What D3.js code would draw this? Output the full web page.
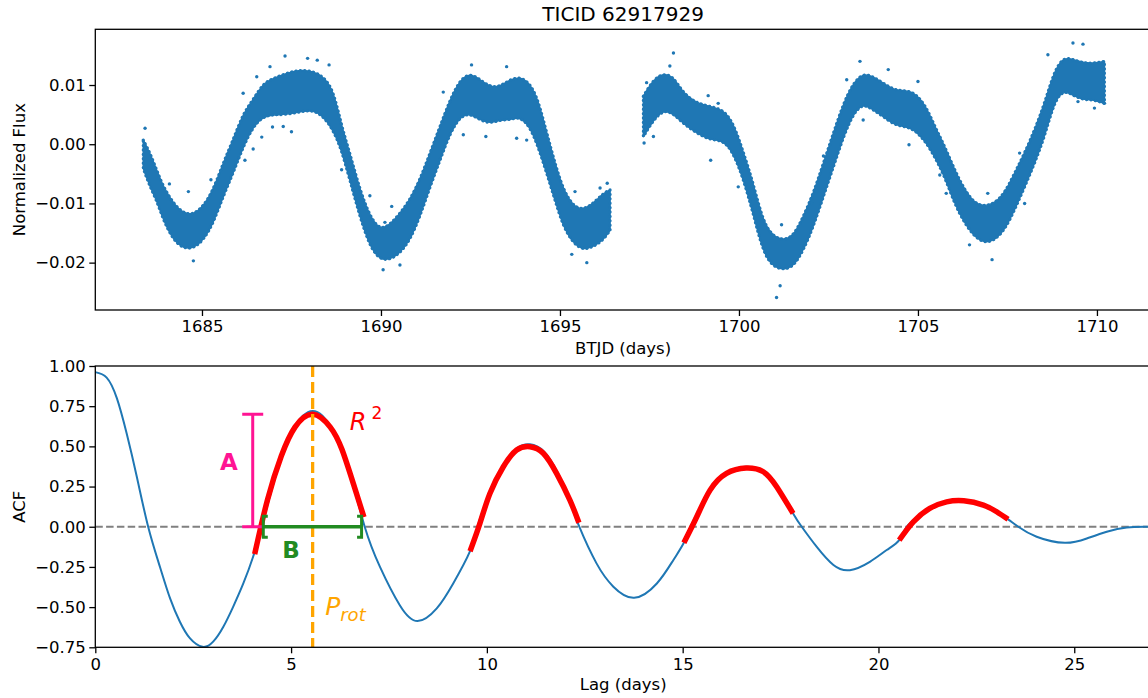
<!DOCTYPE html>
<html>
<head>
<meta charset="utf-8">
<script src="https://cdnjs.cloudflare.com/ajax/libs/d3/7.8.5/d3.min.js"></script>
<style>
    body { margin: 0; background: #fff; }
    svg text { font-family: "DejaVu Sans", sans-serif; }
</style>
</head>
<body>
<div id="chart"></div>
<script>

// ---- light curve (top panel), band of the dense scatter ----
var orbit1Time = [1683.36,1683.55,1683.73,1683.92,1684.20,1684.48,1684.76,1685.04,1685.32,1685.59,1685.87,1686.15,1686.43,1686.71,1686.99,1687.37,1687.74,1688.11,1688.39,1688.67,1688.90,1689.13,1689.41,1689.69,1689.97,1690.25,1690.53,1690.81,1691.09,1691.37,1691.65,1691.93,1692.21,1692.49,1692.77,1693.04,1693.32,1693.60,1693.88,1694.16,1694.39,1694.63,1694.86,1695.09,1695.37,1695.65,1695.93,1696.21,1696.40];
var orbit1High = [0.0007,-0.0015,-0.0043,-0.0072,-0.0100,-0.0117,-0.0119,-0.0105,-0.0077,-0.0032,0.0007,0.0052,0.0075,0.0103,0.0111,0.0120,0.0126,0.0123,0.0114,0.0092,0.0030,-0.0015,-0.0077,-0.0122,-0.0145,-0.0136,-0.0117,-0.0094,-0.0060,-0.0015,0.0030,0.0075,0.0109,0.0120,0.0109,0.0097,0.0097,0.0109,0.0114,0.0103,0.0075,0.0019,-0.0032,-0.0077,-0.0105,-0.0111,-0.0100,-0.0083,-0.0077];
var orbit1Low = [-0.0041,-0.0072,-0.0094,-0.0128,-0.0162,-0.0176,-0.0176,-0.0162,-0.0133,-0.0088,-0.0049,-0.0004,0.0030,0.0047,0.0050,0.0050,0.0055,0.0058,0.0047,0.0024,-0.0010,-0.0060,-0.0122,-0.0173,-0.0195,-0.0195,-0.0184,-0.0162,-0.0122,-0.0072,-0.0027,0.0019,0.0047,0.0052,0.0041,0.0035,0.0041,0.0041,0.0047,0.0030,-0.0004,-0.0049,-0.0094,-0.0139,-0.0167,-0.0179,-0.0173,-0.0162,-0.0145];

var orbit2Time = [1697.33,1697.61,1697.89,1698.17,1698.44,1698.82,1699.19,1699.57,1699.85,1700.13,1700.40,1700.68,1700.96,1701.24,1701.52,1701.80,1702.08,1702.36,1702.64,1702.92,1703.19,1703.47,1703.75,1704.03,1704.40,1704.81,1705.19,1705.47,1705.75,1706.02,1706.30,1706.58,1706.86,1707.14,1707.42,1707.70,1707.98,1708.26,1708.54,1708.82,1709.09,1709.37,1709.65,1709.93,1710.21];
var orbit2High = [0.0081,0.0109,0.0120,0.0114,0.0086,0.0069,0.0064,0.0058,0.0035,-0.0015,-0.0066,-0.0133,-0.0156,-0.0162,-0.0156,-0.0122,-0.0083,-0.0032,0.0019,0.0069,0.0103,0.0120,0.0114,0.0103,0.0089,0.0092,0.0069,0.0030,-0.0004,-0.0043,-0.0077,-0.0100,-0.0105,-0.0100,-0.0083,-0.0049,-0.0015,0.0024,0.0069,0.0126,0.0148,0.0142,0.0137,0.0137,0.0140];
var orbit2Low = [0.0013,0.0041,0.0058,0.0052,0.0035,0.0019,0.0007,0.0007,-0.0015,-0.0060,-0.0117,-0.0184,-0.0207,-0.0212,-0.0207,-0.0179,-0.0139,-0.0088,-0.0038,0.0013,0.0052,0.0069,0.0058,0.0047,0.0030,0.0030,0.0007,-0.0021,-0.0055,-0.0100,-0.0133,-0.0156,-0.0167,-0.0162,-0.0145,-0.0111,-0.0072,-0.0032,0.0013,0.0075,0.0092,0.0081,0.0075,0.0075,0.0069];

// stray points outside the dense band
var strayTime = [1687.32,1687.95,1688.22,1688.55,1686.90,1686.53,1686.15,1683.41,1687.50,1686.97,1687.27,1686.67,1686.43,1686.20,1684.62,1684.09,1684.76,1689.69,1688.90,1690.11,1690.06,1685.25,
    1692.53,1693.51,1691.74,1692.93,1692.30,1693.79,1694.07,1690.30,1690.53,1695.33,1695.75,1696.32,1696.12,1695.42,1697.35,
    1698.17,1698.07,1697.42,1699.14,1699.42,1697.61,1699.21,1699.98,1701.05,1701.15,1701.19,1702.03,1702.36,1703.01,1703.38,1704.17,1703.47,
    1705.00,1704.75,1705.61,1705.79,1706.44,1707.07,1706.95,1707.98,1707.84,1708.63,1709.33,1709.61,1709.93,1710.21,1709.47];
var strayFlux = [0.0149,0.0145,0.0142,0.0134,0.0131,0.0114,0.0086,0.0027,0.0021,0.0029,0.0030,0.0012,-0.0008,-0.0027,-0.0080,-0.0067,-0.0197,-0.0087,-0.0043,-0.0132,-0.0212,-0.0060,
    0.0134,0.0131,0.0088,0.0013,0.0016,0.0010,0.0007,-0.0105,-0.0204,-0.0186,-0.0200,-0.0066,-0.0074,-0.0080,0.0002,
    0.0154,0.0132,0.0104,0.0082,0.0069,0.0013,-0.0027,-0.0072,-0.0259,-0.0239,-0.0136,-0.0100,-0.0020,0.0109,0.0140,0.0126,0.0041,
    0.0106,-0.0001,-0.0052,-0.0083,-0.0170,-0.0195,-0.0083,-0.0100,-0.0015,0.0151,0.0171,0.0169,0.0061,0.0069,0.0072];

var timeTicks = [1685, 1690, 1695, 1700, 1705, 1710];
var fluxTicks = [-0.02, -0.01, 0.00, 0.01];

// ---- ACF (bottom panel) ----
var acfLag = [0,0.29,0.55,0.80,1.06,1.35,1.65,1.91,2.16,2.42,2.74,3.01,3.27,3.52,3.78,4.03,4.25,4.60,5.00,5.30,5.55,5.80,6.10,6.50,6.88,7.27,7.78,8.23,8.72,9.14,9.57,9.76,10.10,10.45,10.78,11.10,11.45,11.80,12.10,12.36,12.80,13.23,13.76,14.34,14.76,15.03,15.20,15.55,15.90,16.25,16.62,17.00,17.40,17.82,18.04,18.42,18.85,19.27,19.78,20.21,20.53,20.72,21.10,21.50,21.85,22.18,22.60,23.00,23.31,23.57,24.04,24.76,25.32,25.83,26.34,26.88];
var acfValue = [0.962,0.928,0.800,0.581,0.311,0.0,-0.249,-0.446,-0.591,-0.695,-0.747,-0.715,-0.622,-0.498,-0.353,-0.187,0.0,0.31,0.58,0.69,0.72,0.69,0.58,0.33,0.0,-0.25,-0.49,-0.587,-0.508,-0.353,-0.152,0.0,0.22,0.39,0.49,0.513,0.47,0.34,0.17,0.0,-0.228,-0.373,-0.442,-0.353,-0.208,-0.1,0.0,0.16,0.28,0.35,0.373,0.35,0.25,0.083,0.0,-0.124,-0.238,-0.27,-0.218,-0.145,-0.083,0.0,0.075,0.135,0.16,0.166,0.145,0.095,0.046,0.0,-0.062,-0.1,-0.073,-0.031,-0.004,0.0];

// red peak fits
var fitLags = [
    [4.07,4.40,4.75,5.10,5.55,6.00,6.30,6.60,6.86],
    [9.57,9.82,10.08,10.42,10.76,11.10,11.44,11.78,12.12,12.35],
    [15.03,15.36,15.70,16.12,16.62,17.06,17.40,17.82],
    [20.53,20.89,21.31,21.74,22.18,22.68,23.02,23.31]
];
var fitValues = [
    [-0.17,0.17,0.44,0.62,0.70,0.62,0.48,0.26,0.06],
    [-0.152,0.02,0.208,0.373,0.477,0.498,0.457,0.332,0.166,0.025],
    [-0.10,0.062,0.228,0.332,0.365,0.342,0.249,0.083],
    [-0.083,0.031,0.114,0.155,0.162,0.135,0.093,0.046]
];

var periodLag = 5.55;        // P_rot
var amplitudeA = [4.02, 0.0, 0.70];   // lag, from, to
var widthB = [4.29, 6.80, 0.0];       // from lag, to lag, acf

var lagTicks = [0, 5, 10, 15, 20, 25];
var acfTicks = [-0.75, -0.50, -0.25, 0.00, 0.25, 0.50, 0.75, 1.00];

var BLUE = "#1f77b4";

var svg = d3.select("#chart").append("svg")
    .attr("width", 1148)
    .attr("height", 698)
    .style("background", "#fff");

/*
 * small helper: frame + axes the way matplotlib draws them
 */
function drawAxes(g, x, y, xTicks, yTicks, xFmt, yFmt) {
    var w = x.range()[1] - x.range()[0];
    var h = y.range()[0] - y.range()[1];

    var xa = g.append("g")
        .attr("transform", "translate(0," + h + ")")
        .call(d3.axisBottom(x).tickValues(xTicks).tickFormat(xFmt).tickSize(6).tickPadding(4.5).tickSizeOuter(0));
    var ya = g.append("g")
        .call(d3.axisLeft(y).tickValues(yTicks).tickFormat(yFmt).tickSize(6).tickPadding(3.5).tickSizeOuter(0));

    [xa, ya].forEach(function (a) {
        a.select(".domain").remove();
        a.selectAll("line").attr("stroke", "#000").attr("stroke-width", 1.3);
        a.selectAll("text").attr("fill", "#000").style("font-size", "16.5px");
    });

    g.append("rect")
        .attr("width", w)
        .attr("height", h)
        .attr("fill", "none")
        .attr("stroke", "#000")
        .attr("stroke-width", 1.3);
}

/*
 * LightCurve panel
 */
LightCurve = function (_svg) {
    this.svg = _svg;
    this.initVis();
};

LightCurve.prototype.initVis = function () {
    var vis = this;

    vis.left = 95.3; vis.top = 29.3;
    vis.x = d3.scaleLinear().domain([1682.02, 1711.51]).range([0, 1151 - vis.left]);
    vis.y = d3.scaleLinear().domain([-0.0280, 0.01941]).range([310 - vis.top, 0]);

    vis.g = vis.svg.append("g")
        .attr("transform", "translate(" + vis.left + "," + vis.top + ")");

    vis.g.append("clipPath").attr("id", "clipTop")
        .append("rect").attr("width", vis.x.range()[1]).attr("height", vis.y.range()[0]);

    var plot = vis.g.append("g").attr("clip-path", "url(#clipTop)");

    var band = d3.area()
        .curve(d3.curveBasis)
        .x(function (d) { return vis.x(d.t); })
        .y0(function (d) { return vis.y(d.lo); })
        .y1(function (d) { return vis.y(d.hi); });

    var orbits = [
        orbit1Time.map(function (t, i) { return {t: t, hi: orbit1High[i], lo: orbit1Low[i]}; }),
        orbit2Time.map(function (t, i) { return {t: t, hi: orbit2High[i], lo: orbit2Low[i]}; })
    ];

    plot.selectAll(".band")
        .data(orbits)
        .enter().append("path")
        .attr("class", "band")
        .attr("d", band)
        .attr("fill", BLUE)
        .attr("stroke", BLUE)
        .attr("stroke-width", 1.5)
        .attr("stroke-linejoin", "round");

    // dotted fringe so the edge reads like scattered points
    plot.selectAll(".fringe")
        .data(orbits)
        .enter().append("path")
        .attr("class", "fringe")
        .attr("d", band)
        .attr("fill", "none")
        .attr("stroke", BLUE)
        .attr("stroke-width", 3.2)
        .attr("stroke-linecap", "round")
        .attr("stroke-dasharray", "0.1,4.3");

    plot.selectAll(".stray")
        .data(strayTime)
        .enter().append("circle")
        .attr("class", "stray")
        .attr("r", 1.7)
        .attr("cx", function (d) { return vis.x(d); })
        .attr("cy", function (d, i) { return vis.y(strayFlux[i]); })
        .attr("fill", BLUE);

    drawAxes(vis.g, vis.x, vis.y, timeTicks, fluxTicks, d3.format("d"), d3.format(".2f"));

    var w = vis.x.range()[1], h = vis.y.range()[0];

    vis.g.append("text")
        .text("TICID 62917929")
        .attr("x", w / 2).attr("y", -8)
        .attr("text-anchor", "middle")
        .style("font-size", "20px");

    vis.g.append("text")
        .text("BTJD (days)")
        .attr("x", w / 2).attr("y", h + 44.5)
        .attr("text-anchor", "middle")
        .style("font-size", "16.5px");

    vis.g.append("text")
        .text("Normalized Flux")
        .attr("transform", "translate(" + (25 - vis.left) + "," + (h / 2) + ") rotate(-90)")
        .attr("text-anchor", "middle")
        .style("font-size", "16.5px");
};

/*
 * ACF panel
 */
AcfPlot = function (_svg) {
    this.svg = _svg;
    this.initVis();
};

AcfPlot.prototype.initVis = function () {
    var vis = this;

    vis.left = 95.3; vis.top = 366;
    vis.x = d3.scaleLinear().domain([0, 26.96]).range([0, 1151 - vis.left]);
    vis.y = d3.scaleLinear().domain([-0.75, 1.0]).range([647.3 - vis.top, 0]);

    var x = vis.x, y = vis.y;
    var w = x.range()[1], h = y.range()[0];

    vis.g = vis.svg.append("g")
        .attr("transform", "translate(" + vis.left + "," + vis.top + ")");

    vis.g.append("clipPath").attr("id", "clipBottom")
        .append("rect").attr("width", w).attr("height", h);

    var plot = vis.g.append("g").attr("clip-path", "url(#clipBottom)");

    // zero line
    plot.append("line")
        .attr("x1", 0).attr("x2", w)
        .attr("y1", y(0)).attr("y2", y(0))
        .attr("stroke", "#808080")
        .attr("stroke-width", 2)
        .attr("stroke-dasharray", "7.5,3.3");

    var line = d3.line()
        .curve(d3.curveNatural)
        .x(function (d) { return x(d[0]); })
        .y(function (d) { return y(d[1]); });

    plot.append("path")
        .datum(acfLag.map(function (l, i) { return [l, acfValue[i]]; }))
        .attr("d", line)
        .attr("fill", "none")
        .attr("stroke", BLUE)
        .attr("stroke-width", 2);

    plot.selectAll(".fit")
        .data(fitLags.map(function (lags, k) {
            return lags.map(function (l, i) { return [l, fitValues[k][i]]; });
        }))
        .enter().append("path")
        .attr("class", "fit")
        .attr("d", line)
        .attr("fill", "none")
        .attr("stroke", "red")
        .attr("stroke-width", 5.5);

    // P_rot
    plot.append("line")
        .attr("x1", x(periodLag)).attr("x2", x(periodLag))
        .attr("y1", 0).attr("y2", h)
        .attr("stroke", "orange")
        .attr("stroke-width", 3.3)
        .attr("stroke-dasharray", "11,5");

    // A: vertical bar with caps
    var pink = "#ff1493";
    var ax = x(amplitudeA[0]);
    plot.append("line")
        .attr("x1", ax).attr("x2", ax)
        .attr("y1", y(amplitudeA[1])).attr("y2", y(amplitudeA[2]))
        .attr("stroke", pink).attr("stroke-width", 3);
    [amplitudeA[1], amplitudeA[2]].forEach(function (v) {
        plot.append("line")
            .attr("x1", ax - 10.5).attr("x2", ax + 10.5)
            .attr("y1", y(v)).attr("y2", y(v))
            .attr("stroke", pink).attr("stroke-width", 3);
    });

    // B: horizontal bracket
    var green = "#228b22";
    var by = y(widthB[2]);
    plot.append("line")
        .attr("x1", x(widthB[0])).attr("x2", x(widthB[1]))
        .attr("y1", by).attr("y2", by)
        .attr("stroke", green).attr("stroke-width", 3.3);
    [[widthB[0], 1], [widthB[1], -1]].forEach(function (c) {
        var bx = x(c[0]);
        plot.append("path")
            .attr("d", "M" + (bx + 4.5 * c[1]) + "," + (by - 10.5) + "H" + bx + "V" + (by + 10.5) + "H" + (bx + 4.5 * c[1]))
            .attr("fill", "none")
            .attr("stroke", green).attr("stroke-width", 3);
    });

    vis.g.append("text").text("A")
        .attr("x", x(3.41)).attr("y", y(0.404))
        .attr("dy", "0.36em")
        .attr("text-anchor", "middle")
        .attr("fill", pink)
        .style("font-weight", "bold")
        .style("font-size", "23px");

    vis.g.append("text").text("B")
        .attr("x", x(5.0)).attr("y", y(-0.145))
        .attr("dy", "0.36em")
        .attr("text-anchor", "middle")
        .attr("fill", green)
        .style("font-weight", "bold")
        .style("font-size", "23px");

    var r2 = vis.g.append("text")
        .attr("x", x(6.5)).attr("y", y(0.60))
        .attr("fill", "red")
        .style("font-size", "24px");
    r2.append("tspan").text("R").style("font-style", "italic");
    r2.append("tspan").text("2").attr("dx", 5).attr("dy", -11).style("font-size", "17px");

    var pr = vis.g.append("text")
        .attr("x", x(5.87)).attr("y", y(-0.55))
        .attr("fill", "orange")
        .style("font-size", "25px");
    pr.append("tspan").text("P").style("font-style", "italic");
    pr.append("tspan").text("rot").attr("dy", 6).style("font-style", "italic").style("font-size", "18px");

    drawAxes(vis.g, x, y, lagTicks, acfTicks, d3.format("d"), d3.format(".2f"));

    vis.g.append("text")
        .text("Lag (days)")
        .attr("x", w / 2).attr("y", h + 42.5)
        .attr("text-anchor", "middle")
        .style("font-size", "16.5px");

    vis.g.append("text")
        .text("ACF")
        .attr("transform", "translate(" + (25 - vis.left) + "," + (h / 2) + ") rotate(-90)")
        .attr("text-anchor", "middle")
        .style("font-size", "16.5px");
};

var lc = new LightCurve(svg);
var acf = new AcfPlot(svg);

</script>
</body>
</html>
